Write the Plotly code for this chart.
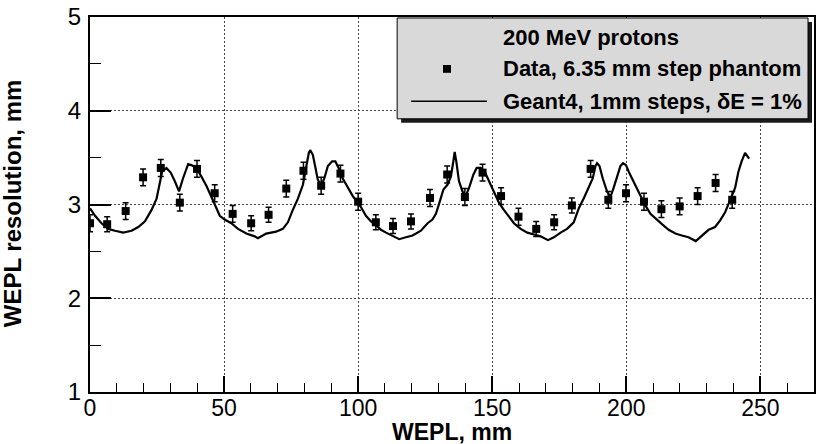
import plotly.graph_objects as go

# measured WEPL resolution, 6.35 mm step phantom
data_x = [0, 6.4, 13.3, 19.8, 26.4, 33.5, 39.9, 46.5, 53.2, 60.1, 66.6, 73.2, 79.6,
          86.2, 93.4, 100.0, 106.6, 113.0, 119.7, 126.8, 133.2, 139.8, 146.4, 153.3,
          159.8, 166.4, 173.1, 179.7, 186.7, 193.3, 199.9, 206.6, 213.1, 219.9, 226.6,
          233.3, 239.5]
data_y = [2.80, 2.79, 2.93, 3.29, 3.39, 3.02, 3.38, 3.12, 2.90, 2.80, 2.89, 3.17, 3.36,
          3.20, 3.33, 3.03, 2.81, 2.77, 2.82, 3.07, 3.32, 3.08, 3.34, 3.09, 2.87, 2.74,
          2.81, 2.99, 3.38, 3.05, 3.12, 3.03, 2.95, 2.98, 3.09, 3.23, 3.05]
data_err = [0.09, 0.08, 0.09, 0.09, 0.09, 0.09, 0.09, 0.09, 0.09, 0.08, 0.08, 0.09, 0.09,
            0.09, 0.09, 0.09, 0.08, 0.08, 0.08, 0.09, 0.09, 0.09, 0.09, 0.09, 0.09, 0.08,
            0.08, 0.08, 0.09, 0.09, 0.09, 0.09, 0.09, 0.09, 0.09, 0.09, 0.09]

# Geant4 simulation, 1 mm steps
g4_x = [0, 1.9, 4.3, 6.8, 9.3, 12.4, 15.5, 18.0, 20.5, 22.9, 24.8, 26.0, 26.9, 28.5,
        30.1, 31.6, 33.2, 34.7, 36.6, 37.8, 39.7, 41.5, 43.4, 45.3, 46.8, 48.4, 50.2,
        52.7, 55.2, 58.3, 61.4, 62.6, 65.7, 69.4, 71.9, 73.8, 75.6, 77.5, 79.4, 80.6,
        81.6, 82.1, 83.1, 84.1, 84.9, 86.2, 87.4, 88.7, 90.3, 91.5, 92.7, 94.2, 96.1,
        98.0, 99.8, 101.1, 102.9, 104.8, 106.7, 108.5, 110.4, 112.8, 115.3, 117.8,
        120.3, 123.4, 125.9, 127.7, 129.0, 130.2, 131.8, 133.3, 134.6, 135.5, 136.0,
        136.6, 137.6, 138.9, 140.1, 141.4, 143.0, 144.2, 145.7, 147.2, 148.8, 150.7,
        152.5, 154.4, 156.3, 158.1, 160.6, 163.1, 165.6, 168.0, 170.8, 173.0, 175.5,
        177.9, 180.4, 182.3, 184.2, 186.0, 187.5, 188.5, 189.1, 190.0, 191.2, 192.8,
        194.1, 195.3, 196.5, 197.8, 198.8, 199.9, 200.9, 202.1, 203.4, 205.2, 207.1,
        209.0, 210.8, 213.3, 215.8, 218.3, 220.7, 223.2, 225.9, 228.2, 230.7, 233.1,
        235.0, 236.9, 238.7, 240.6, 241.8, 243.0, 244.3, 245.8]
g4_y = [2.96, 2.88, 2.80, 2.74, 2.72, 2.70, 2.72, 2.76, 2.82, 2.94, 3.06, 3.21, 3.35, 3.39,
        3.34, 3.25, 3.14, 3.28, 3.43, 3.42, 3.39, 3.30, 3.20, 3.08, 2.98, 2.88, 2.84,
        2.80, 2.74, 2.69, 2.66, 2.64, 2.69, 2.71, 2.74, 2.81, 2.94, 3.06, 3.21, 3.39,
        3.55, 3.58, 3.53, 3.39, 3.27, 3.20, 3.28, 3.41, 3.46, 3.46, 3.39, 3.28, 3.18,
        3.09, 3.02, 2.97, 2.88, 2.82, 2.78, 2.73, 2.70, 2.67, 2.63, 2.65,
        2.67, 2.72, 2.80, 2.84, 2.90, 3.01, 3.16, 3.21, 3.30, 3.46, 3.56,
        3.46, 3.25, 3.14, 3.09, 3.18, 3.32, 3.39, 3.39, 3.35, 3.25, 3.13,
        3.02, 2.94, 2.87, 2.80, 2.74, 2.70, 2.68, 2.66, 2.62, 2.65, 2.70,
        2.74, 2.81, 2.96, 3.07, 3.18, 3.28, 3.41, 3.44, 3.41, 3.28, 3.14,
        3.08, 3.18, 3.30, 3.41, 3.44, 3.42, 3.35, 3.28, 3.21, 3.09, 2.99,
        2.90, 2.85, 2.79, 2.73, 2.69, 2.67, 2.65, 2.61, 2.67, 2.73, 2.76,
        2.83, 2.92, 3.04, 3.18, 3.35, 3.46, 3.55, 3.49]

x_ticks = [0, 50, 100, 150, 200, 250]
y_ticks = [1, 2, 3, 4, 5]

legend_lines = ["200 MeV protons", "Data, 6.35 mm step phantom",
                "Geant4, 1mm steps, \u03b4E = 1%"]

W, H = 819, 444
L, R, T, B = 90, 3, 9, 52
FONT = "Liberation Sans, Arial, Helvetica, sans-serif"
GRID = "#444444"


def px(x):
    return (x - L) / (W - L - R)


def py(y):
    return (H - B - y) / (H - T - B)


fig = go.Figure()

fig.add_trace(
    go.Scatter(
        x=g4_x,
        y=g4_y,
        mode="lines",
        line=dict(color="black", width=2.2),
        showlegend=False,
    )
)

fig.add_trace(
    go.Scatter(
        x=data_x,
        y=data_y,
        mode="markers",
        marker=dict(symbol="square", size=8, color="black"),
        error_y=dict(type="data", array=data_err, color="black", thickness=1.5, width=3),
        showlegend=False,
    )
)

# ROOT-style legend box with drop shadow
fig.add_shape(type="rect", xref="paper", yref="paper",
              x0=px(402), x1=px(814), y0=py(117), y1=py(14),
              fillcolor="#1a1a1a", line=dict(width=0), layer="above")
fig.add_shape(type="rect", xref="paper", yref="paper",
              x0=px(398), x1=px(810), y0=py(113), y1=py(10),
              fillcolor="#d9d9d9", line=dict(color="black", width=1), layer="above")
fig.add_shape(type="rect", xref="paper", yref="paper",
              x0=px(444), x1=px(452), y0=py(66), y1=py(58),
              fillcolor="black", line=dict(width=0), layer="above")
fig.add_shape(type="line", xref="paper", yref="paper",
              x0=px(412), x1=px(488), y0=py(95), y1=py(95),
              line=dict(color="black", width=1.5), layer="above")

for text, ypos in zip(legend_lines, [30, 62, 95]):
    fig.add_annotation(
        text=f"<b>{text}</b>",
        x=px(502), y=py(ypos), xref="paper", yref="paper",
        xanchor="left", yanchor="middle", showarrow=False,
        font=dict(family=FONT, size=22, color="black"),
    )

# axis titles
fig.add_annotation(
    text="<b>WEPL, mm</b>", x=0.5, y=py(433), xref="paper", yref="paper",
    xanchor="center", yanchor="middle", showarrow=False,
    font=dict(family=FONT, size=23, color="black"),
)
fig.add_annotation(
    text="<b>WEPL resolution, mm</b>", x=px(12), y=py(199), xref="paper", yref="paper",
    xanchor="center", yanchor="middle", textangle=-90, showarrow=False,
    font=dict(family=FONT, size=24, color="black"),
)

fig.update_layout(
    width=W,
    height=H,
    margin=dict(l=L, r=R, t=T, b=B),
    paper_bgcolor="white",
    plot_bgcolor="white",
    font=dict(family=FONT, color="black"),
    showlegend=False,
)

fig.update_xaxes(
    range=[0, 270],
    tickvals=x_ticks,
    ticks="inside",
    ticklen=16,
    tickwidth=1.5,
    tickcolor="black",
    tickfont=dict(size=23),
    ticklabelstandoff=-6,
    ticklabeloverflow="allow",
    minor=dict(dtick=10, ticks="inside", ticklen=9, tickwidth=1.2, tickcolor="black",
               showgrid=False),
    showgrid=True,
    gridcolor=GRID,
    griddash="2px,2px",
    gridwidth=1,
    showline=True,
    linewidth=2,
    linecolor="black",
    mirror=True,
    zeroline=False,
)

fig.update_yaxes(
    range=[1, 5],
    tickvals=y_ticks,
    ticks="inside",
    ticklen=21,
    tickwidth=1.5,
    tickcolor="black",
    tickfont=dict(size=24),
    ticklabelstandoff=2,
    ticklabeloverflow="allow",
    minor=dict(dtick=0.5, ticks="inside", ticklen=11, tickwidth=1.2, tickcolor="black",
               showgrid=False),
    showgrid=True,
    gridcolor=GRID,
    griddash="2px,2px",
    gridwidth=1,
    showline=True,
    linewidth=2,
    linecolor="black",
    mirror=True,
    zeroline=False,
)

# drop the default page margin so the figure sits at the window's corner
fig.write_html(
    "out.html",
    config={"displayModeBar": False},
    post_script="document.body.style.margin = '0px';",
)
